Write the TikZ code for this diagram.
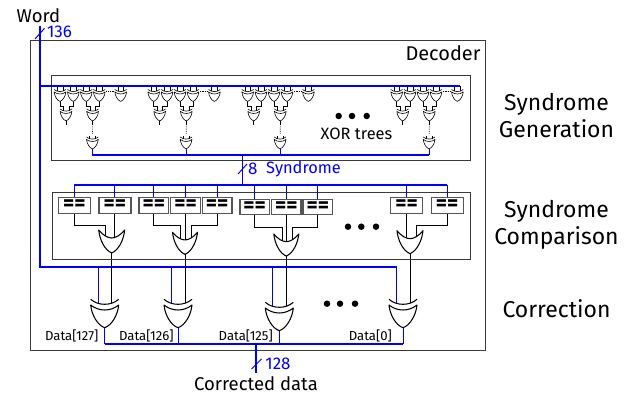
\documentclass[tikz,border=0pt]{standalone}
\usepackage{fontspec}
\setmainfont{Fira Sans}
\usetikzlibrary{arrows.meta,positioning,calc,backgrounds}
\definecolor{netblue}{HTML}{0000FF}
\definecolor{framegray}{HTML}{3A3A3A}
\definecolor{cmpgray}{HTML}{555555}
\newcommand{\px}{.03cm}
\tikzset{
frame/.style={draw=framegray,line width=.85pt,inner sep=0pt},
wire/.style={black,line width=.8pt},
twig/.style={black,line width=.5pt},
bus/.style={netblue,line width=1.7pt},
thinbus/.style={netblue,line width=.85pt},
gate/.style={draw=black,fill=white,line join=round},
cmp/.style={draw=cmpgray,fill=white,line width=1.1pt,inner sep=0pt,minimum height=15.4*\px,font=\fontsize{18.5}{15}\selectfont\bfseries},
dot/.style={circle,fill=black,inner sep=0pt,minimum size=6.5*\px},
title/.style={font=\fontsize{19.6}{23}\selectfont,align=center,inner sep=0pt},
label/.style={font=\fontsize{15.8}{18}\selectfont,inner sep=0pt},
treelabel/.style={font=\fontsize{14}{16}\selectfont,inner sep=0pt},
boxlabel/.style={font=\fontsize{17}{18}\selectfont,inner sep=0pt},
buslabel/.style={font=\fontsize{14.5}{16}\selectfont,inner sep=0pt,text=netblue},
datalabel/.style={font=\fontsize{11.2}{12}\selectfont,inner sep=0pt},
pics/orgate/.style={code={\begin{scope}[scale=#1]
\path[gate] (-13,0) .. controls (-12,10) and (-7,20) .. (0,23) .. controls (7,20) and (12,10) .. (13,0) .. controls (9,5) and (4,8) .. (0,8) .. controls (-4,8) and (-9,5) .. cycle;
\coordinate (-t) at (0,8);\coordinate (-o) at (0,23);
\end{scope}}},
pics/xorgate/.style={code={\begin{scope}[scale=#1]
\path[gate] (-14,5.7) .. controls (-13,16) and (-7,26) .. (0,28.4) .. controls (7,26) and (13,16) .. (14,5.7) .. controls (10,9) and (5,10.7) .. (0,10.7) .. controls (-5,10.7) and (-10,9) .. cycle;
\path[gate,fill=none] (-14,0) .. controls (-10,3.5) and (-5,5) .. (0,5) .. controls (5,5) and (10,3.5) .. (14,0);
\coordinate (-a) at (-6.5,4);\coordinate (-b) at (7,4);\coordinate (-o) at (0,28.4);
\end{scope}}}
}
\begin{document}
\begin{tikzpicture}[x=\px,y=-\px]
\useasboundingbox (0,0) rectangle (632,394);
\coordinate (wordin) at (40,26);\coordinate (wordbus) at (40,85.7);\coordinate (wordturn) at (40,267);
\coordinate (treebus) at (92,155);\coordinate (cmpbus) at (242.7,185);
\coordinate (outbus) at (256,344);\coordinate (outend) at (256,373);
\node[frame,minimum width=455*\px,minimum height=309.5*\px] (decoder) at (258,195.5) {};
\node[frame,minimum width=418.5*\px,minimum height=85*\px] (trees) at (261,117.5) {};
\node[frame,minimum width=418*\px,minimum height=66.7*\px] (compare) at (261.2,225.7) {};
% xor trees
\foreach \g/\x in {A/60,B/153.7,C/247.7,D/396.7}{
\begin{scope}[shift={(\x,0)},line width=.5pt]
\foreach \n/\d in {a/0,b/13.3,c/26.3,d/39.3,e/60.7}{
\pic (\g\n) at (\d,89.5) {xorgate=.42};
\begin{scope}[on background layer]
\draw[twig] (\g\n-a|-wordbus) -- (\g\n-a);\draw[twig] (\g\n-b|-wordbus) -- (\g\n-b);
\end{scope}}
\pic (\g p) at (6,109) {xorgate=.42};
\pic (\g q) at (32.6,109) {xorgate=.42};
\pic (\g r) at (32.4,137) {xorgate=.42};
\begin{scope}[on background layer]
\draw[twig] (\g a-o) -- ++(0,5) -| (\g p-a);\draw[twig] (\g b-o) -- ++(0,5) -| (\g p-b);
\draw[twig] (\g c-o) -- ++(0,5) -| (\g q-a);\draw[twig] (\g d-o) -- ++(0,5) -| (\g q-b);
\draw[twig] (\g p-o) -- ++(0,4);\draw[twig] (\g q-o) -- ++(0,4);
\draw[twig,densely dotted] ($(\g q-o)+(0,5)$) -- ($(\g r-a)!.5!(\g r-b)+(0,-4)$);
\draw[twig] (\g r-a) -- ++(0,-3);\draw[twig] (\g r-b) -- ++(0,-3);
\draw[twig,densely dotted] ($(\g d-b)+(4,0)$) -- ($(\g e-a)+(-3,0)$);
\end{scope}
\draw[thinbus] (\g r-o) -- (\g r-o|-treebus);
\end{scope}}
% comparators
\foreach \n/\x/\y/\w in {1/74.3/205.5/32,2/114.9/205.5/32,3/153.8/205.5/29.4,4/185.5/205.5/29.4,5/217.2/205.5/29.4,6/254.7/207/29.4,7/286.3/207/29.4,8/317.8/207/29.4,9/406.5/205.5/32,10/447.2/205.5/32}{
\node[cmp,minimum width=\w*\px] (c\n) at (\x,\y) {\raisebox{-4.6pt}[0pt][0pt]{==}};
\draw[thinbus] (c\n.north) -- (c\n.north|-cmpbus);}
% or and xor gates
\foreach \n/\x/\oy/\s/\xy in {1/111.7/230/1/299.3,2/185/232.3/.96/299.3,3/286.3/234/.96/302.3,4/410/230.7/1/299.3}{
\pic[line width=.9pt] (or\n) at (\x,\oy) {orgate=\s};
\pic[line width=.9pt] (xor\n) at (\x-7,\xy) {xorgate=1};
\begin{scope}[on background layer]
\draw[wire] (or\n-o) -- (or\n-o|-xor\n-b);
\end{scope}
\draw[thinbus] (xor\n-a) -- (xor\n-a|-wordturn);
\draw[thinbus] (xor\n-o) -- (xor\n-o|-outbus);}
\begin{scope}[on background layer]
\foreach \c/\n/\d in {1/1/-6.7,3/2/-4.3,5/2/6.7,6/3/-4.3,8/3/5.7,10/4/6.7}{
\draw[wire] (c\c.south) -- ++(0,12) -| ($(or\n-t)+(\d,0)$);}
\foreach \c/\n in {2/1,4/2,7/3,9/4}{
\draw[wire] (c\c.south) -- (c\c.south|-or\n-t);}
\end{scope}
% buses
\draw[bus] (wordin) -- (wordturn) -- (wordturn-|xor4-a);
\draw[bus] (wordbus) -- (wordbus-|De-b);
\draw[line width=1.2pt,netblue] (treebus) -- (treebus-|Dr-o);
\draw[thinbus,line width=1.2pt] (cmpbus-|c1.north) -- (cmpbus-|c10.north);
\draw[thinbus,line width=1.2pt] (cmpbus-|treebus) ++(150.7,-30) -- (cmpbus);
\draw[bus] (outbus-|xor1-o) -- (outbus-|xor4-o);
\draw[bus] (outbus) -- (outend);
% bus slashes
\draw[thinbus] ($(wordin)+(-5,13)$) -- ++(9.5,-10.7);
\draw[thinbus] ($(cmpbus)+(-4.7,-11)$) -- ++(9,-10);
\draw[thinbus] ($(outend)+(-4.5,-4)$) -- ++(10,-10);
% labels
\node[label] (word) at (38.5,16) {Word};
\node[buslabel] (width136) at (59.5,32) {136};
\node[boxlabel] (decodername) at (443,53) {Decoder};
\node[buslabel,anchor=west] (width8) at (248,169) {8};
\node[treelabel,text=netblue,anchor=west] (syndrome) at (266,169) {Syndrome};
\node[treelabel] (treename) at (356.5,134) {XOR trees};
\foreach \n/\x/\y in {a/338.7/116,b/352/116,c/366.7/116,d/348/226.7,e/361.3/226.7,f/376/226.7,g/327/303.7,h/340/303.7,i/355/303.7}{
\node[dot] (dot\n) at (\x,\y) {};}
\node[datalabel] (data127) at (71.7,336) {Data[127]};
\node[datalabel] (data126) at (146.3,336) {Data[126]};
\node[datalabel] (data125) at (245.7,336) {Data[125]};
\node[datalabel] (data0) at (370.3,336) {Data[0]};
\node[buslabel] (width128) at (278,364) {128};
\node[label] (corrected) at (256,384) {Corrected data};
\node[title] (gen) at (556.5,116) {Syndrome\\Generation};
\node[title] (comp) at (556.5,225) {Syndrome\\Comparison};
\node[title] (corr) at (556.5,309) {Correction};
\end{tikzpicture}
\end{document}
